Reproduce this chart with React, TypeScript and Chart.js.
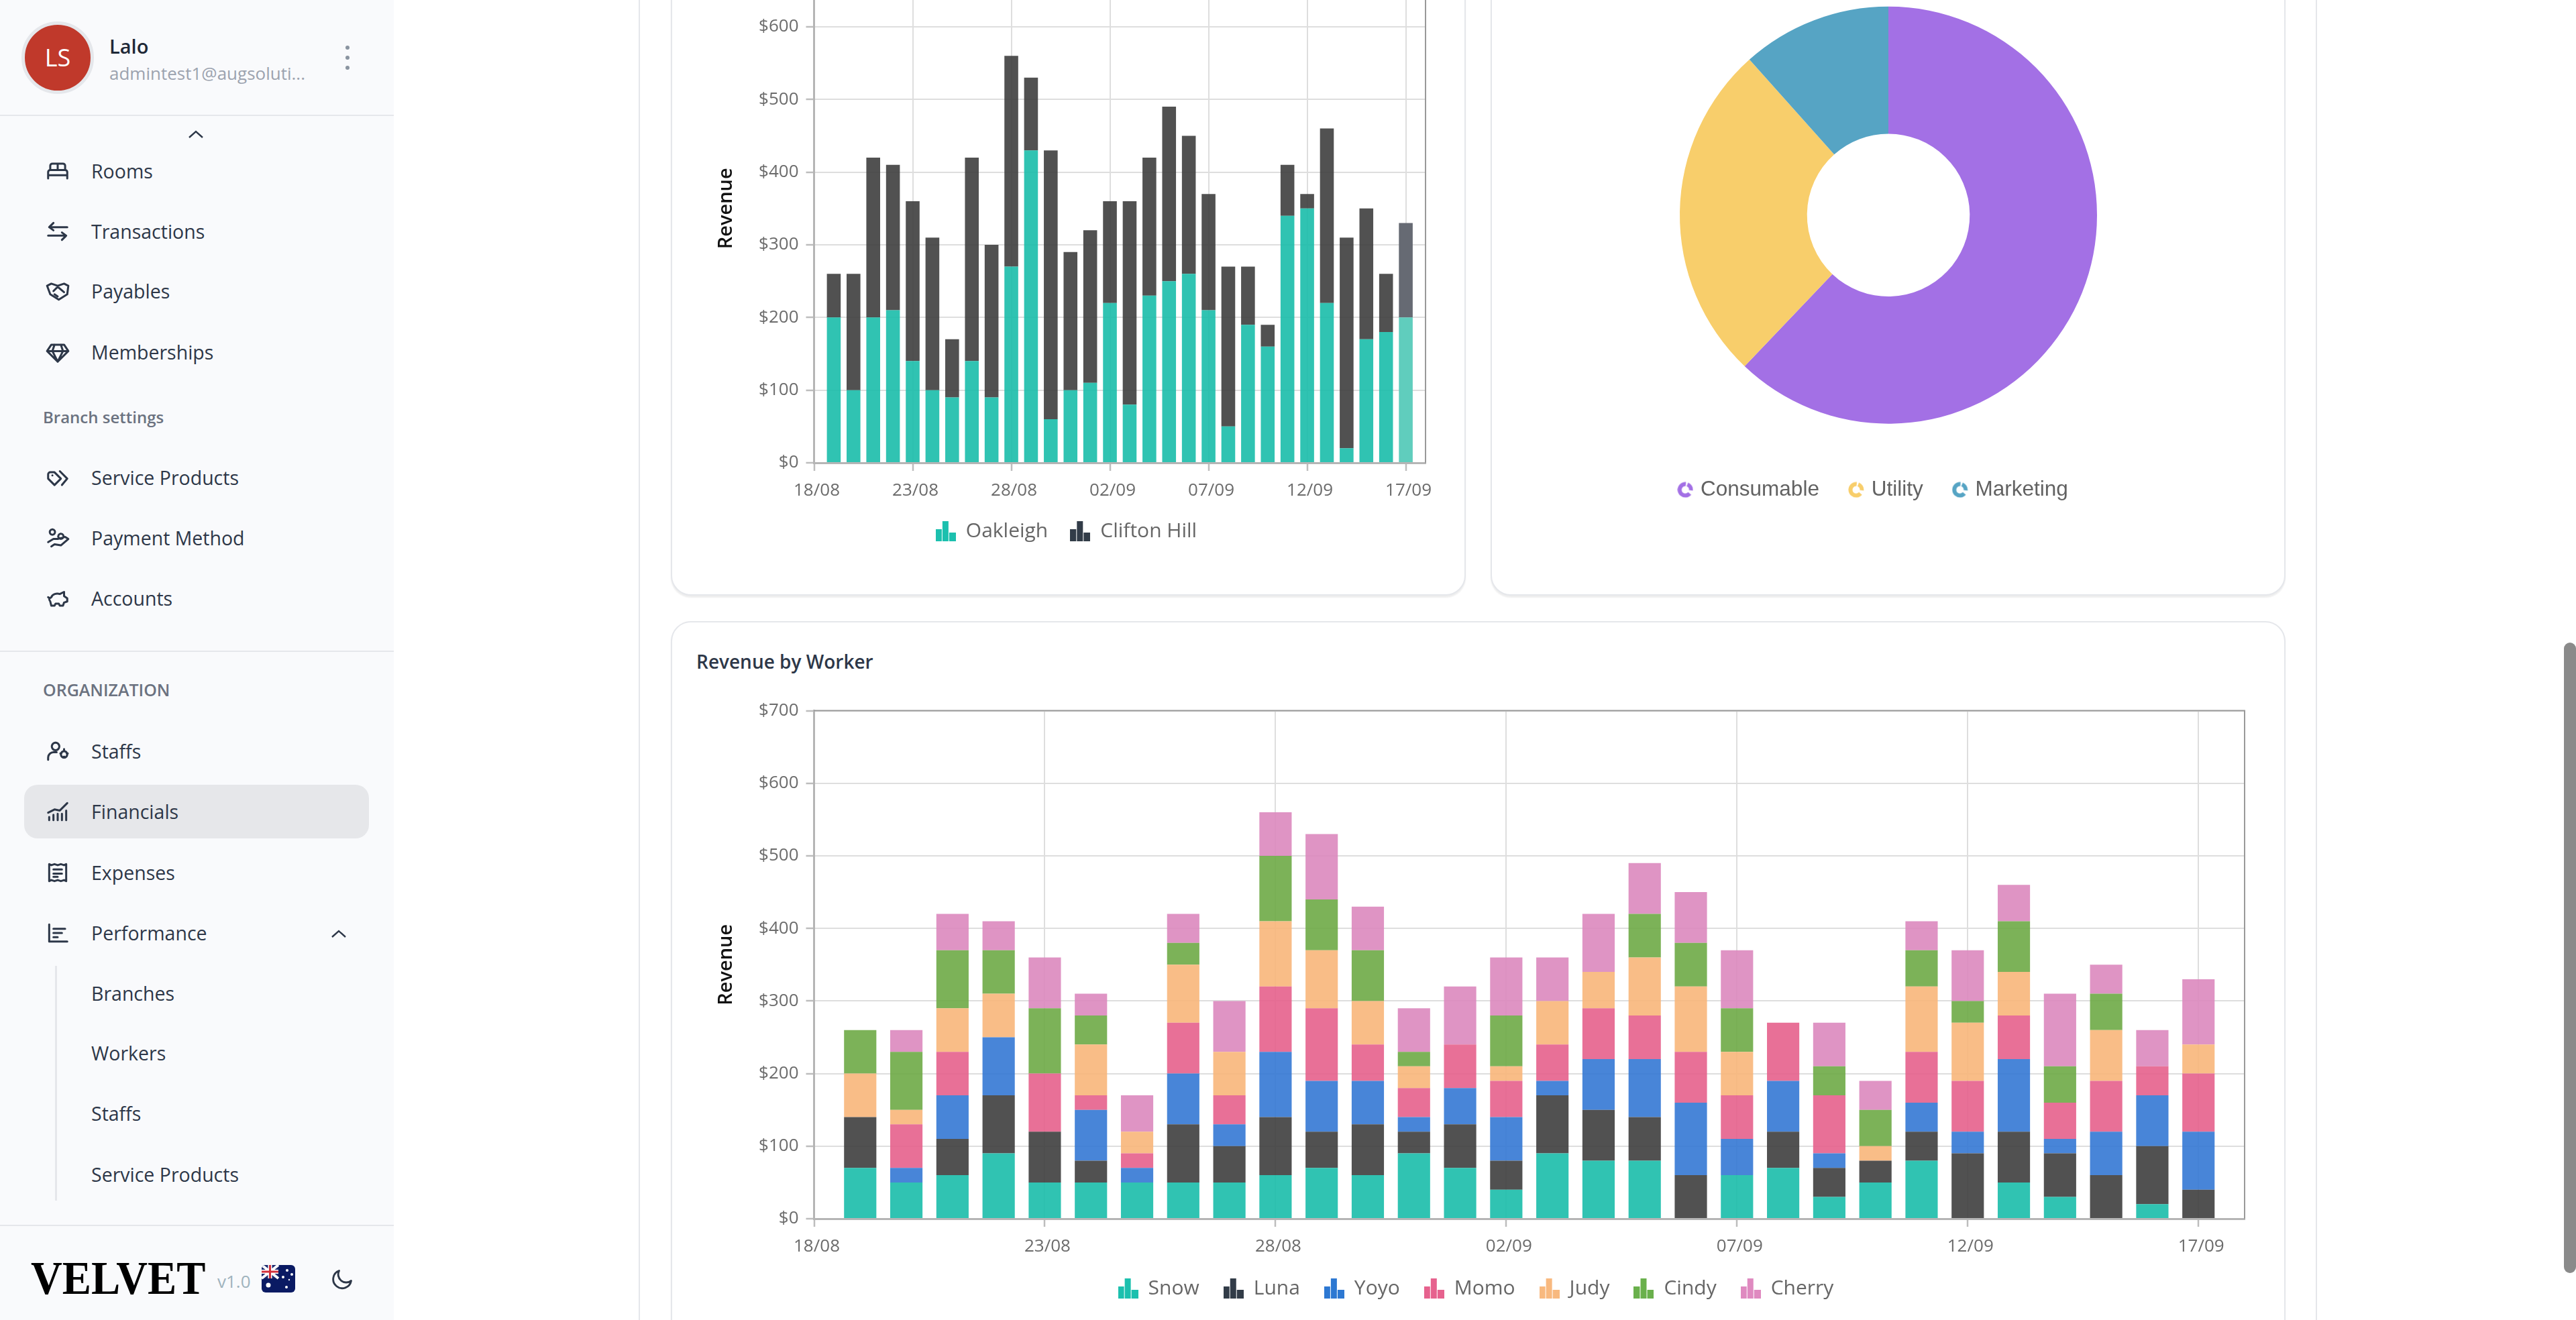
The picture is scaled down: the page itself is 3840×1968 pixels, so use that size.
import { useEffect, useRef } from "react";
import { Chart, registerables } from "chart.js";

Chart.register(...registerables);

// categories: the axis runs one empty day past each end of the bars
const dayLabels = [
  "18/08", "19/08", "20/08", "21/08", "22/08", "23/08", "24/08", "25/08",
  "26/08", "27/08", "28/08", "29/08", "30/08", "31/08", "01/09", "02/09",
  "03/09", "04/09", "05/09", "06/09", "07/09", "08/09", "09/09", "10/09",
  "11/09", "12/09", "13/09", "14/09", "15/09", "16/09", "17/09", "18/09",
];

const oakleigh = [200, 100, 200, 210, 140, 100, 90, 140, 90, 270, 430, 60, 100, 110, 220, 80, 230, 250, 260, 210, 50, 190, 160, 340, 350, 220, 20, 170, 180, 200];
const cliftonHill = [60, 160, 220, 200, 220, 210, 80, 280, 210, 290, 100, 370, 190, 210, 140, 280, 190, 240, 190, 160, 220, 80, 30, 70, 20, 240, 290, 180, 80, 130];

const snow = [70, 50, 60, 90, 50, 50, 50, 50, 50, 60, 70, 60, 90, 70, 40, 90, 80, 80, 0, 60, 70, 30, 50, 80, 0, 50, 30, 0, 20, 0];
const luna = [70, 0, 50, 80, 70, 30, 0, 80, 50, 80, 50, 70, 30, 60, 40, 80, 70, 60, 60, 0, 50, 40, 30, 40, 90, 70, 60, 60, 80, 40];
const yoyo = [0, 20, 60, 80, 0, 70, 20, 70, 30, 90, 70, 60, 20, 50, 60, 20, 70, 80, 100, 50, 70, 20, 0, 40, 30, 100, 20, 60, 70, 80];
const momo = [0, 60, 60, 0, 80, 20, 20, 70, 40, 90, 100, 50, 40, 60, 50, 50, 70, 60, 70, 60, 80, 80, 0, 70, 70, 60, 50, 70, 40, 80];
const judy = [60, 20, 60, 60, 0, 70, 30, 80, 60, 90, 80, 60, 30, 0, 20, 60, 50, 80, 90, 60, 0, 0, 20, 90, 80, 60, 0, 70, 0, 40];
const cindy = [60, 80, 80, 60, 90, 40, 0, 30, 0, 90, 70, 70, 20, 0, 70, 0, 0, 60, 60, 60, 0, 40, 50, 50, 30, 70, 50, 50, 0, 0];
const cherry = [0, 30, 50, 40, 70, 30, 50, 40, 70, 60, 90, 60, 60, 80, 80, 60, 80, 70, 70, 80, 0, 60, 40, 40, 70, 50, 100, 40, 50, 90];

const expenseLabels = ["Consumable", "Utility", "Marketing"];
const expenseValues = [62.1, 26.3, 11.6];

const FONT = "'Open Sans', sans-serif";

function barIcon(color: string) {
  const c = document.createElement("canvas");
  c.width = 30;
  c.height = 30;
  const g = c.getContext("2d")!;
  g.fillStyle = color;
  g.fillRect(0, 12, 9, 18);
  g.fillRect(10, 0, 9, 30);
  g.fillRect(20, 17, 10, 13);
  return c;
}

function ringIcon(color: string) {
  const c = document.createElement("canvas");
  c.width = 24;
  c.height = 24;
  const g = c.getContext("2d")!;
  g.strokeStyle = color;
  g.lineWidth = 6;
  g.beginPath();
  g.arc(12, 12, 8.5, -1.2, 0.1);
  g.stroke();
  g.beginPath();
  g.arc(12, 12, 8.5, 0.7, 4.8);
  g.stroke();
  return c;
}

// top and right edge of the plot
const plotFrame = {
  id: "plotFrame",
  afterDraw(chart: any) {
    const { left, right, top, bottom } = chart.chartArea;
    const g = chart.ctx;
    g.save();
    g.strokeStyle = "#999";
    g.lineWidth = 2;
    g.beginPath();
    g.moveTo(left, top);
    g.lineTo(right, top);
    g.lineTo(right, bottom);
    g.stroke();
    g.restore();
  },
};

// the doughnut legend sits a little left of the ring
const legendShift = {
  id: "legendShift",
  afterLayout(chart: any) {
    chart.legend.left -= 21;
    chart.legend.right -= 21;
  },
};

type Series = { label: string; values: number[]; bar: string; legend: string; hover?: string };

function StackedBars(props: { series: Series[]; left: number; top: number; width: number; height: number; axisHeight: number; legendGap: number }) {
  const ref = useRef<HTMLCanvasElement | null>(null);

  useEffect(() => {
    if (!ref.current) return;
    const chart = new Chart(ref.current, {
      type: "bar",
      data: {
        labels: dayLabels,
        datasets: props.series.map((s) => ({
          label: s.label,
          // pad the two empty days at the ends of the axis
          data: [null, ...s.values, null] as any,
          backgroundColor: dayLabels.map((_, i) => (s.hover && i === 30 ? s.hover : s.bar)),
          barPercentage: 0.7,
          categoryPercentage: 1,
        })),
      },
      options: {
        responsive: false,
        devicePixelRatio: 1,
        animation: false,
        layout: { padding: { top: 20, right: 60 } },
        scales: {
          x: {
            stacked: true,
            offset: false,
            afterFit: (scale: any) => {
              scale.height = props.axisHeight;
            },
            grid: { offset: false, color: "#dedede", lineWidth: 2, tickColor: "#bdbdbd", tickLength: 12, tickWidth: 2.5 },
            border: { color: "#b5b5b5", width: 3 },
            ticks: {
              autoSkip: false,
              maxRotation: 0,
              padding: 14,
              labelOffset: 4,
              color: "#6b6b6b",
              font: { family: FONT, size: 26 },
              callback: (_v: any, i: number) => (i % 5 === 0 ? dayLabels[i] : null),
            },
          },
          y: {
            stacked: true,
            min: 0,
            max: 700,
            afterFit: (scale: any) => {
              scale.width = 159.5;
            },
            title: {
              display: true,
              text: "Revenue",
              color: "#111",
              padding: { top: 11, bottom: 0 },
              font: { family: FONT, size: 29, weight: 600 },
            },
            grid: { color: "#dedede", lineWidth: 2, tickColor: "#bdbdbd", tickLength: 12, tickWidth: 2.5 },
            border: { color: "#b5b5b5", width: 3 },
            ticks: {
              stepSize: 100,
              padding: 11,
              color: "#6b6b6b",
              font: { family: FONT, size: 26 },
              callback: (v: any) => "$" + v,
            },
          },
        },
        plugins: {
          tooltip: { enabled: false },
          legend: {
            position: "bottom",
            labels: {
              usePointStyle: true,
              pointStyleWidth: 30,
              padding: props.legendGap,
              color: "#666",
              font: { family: FONT, size: 30 },
              generateLabels: () =>
                props.series.map((s, i) => ({
                  text: s.label,
                  fillStyle: s.legend,
                  strokeStyle: s.legend,
                  fontColor: "#666",
                  lineWidth: 0,
                  pointStyle: barIcon(s.legend),
                  datasetIndex: i,
                  hidden: false,
                })),
            },
          },
        },
      },
      plugins: [plotFrame],
    } as any);
    return () => chart.destroy();
  }, []);

  return (
    <canvas
      ref={ref}
      width={props.width}
      height={props.height}
      style={{ position: "absolute", left: props.left, top: props.top, width: props.width, height: props.height }}
    />
  );
}

const expenseColors = ["#a370e5", "#f8ce6b", "#56a4c4"];

function ExpenseDoughnut() {
  const ref = useRef<HTMLCanvasElement | null>(null);

  useEffect(() => {
    if (!ref.current) return;
    const chart = new Chart(ref.current, {
      type: "doughnut",
      data: {
        labels: expenseLabels,
        datasets: [{ data: expenseValues, backgroundColor: expenseColors, borderWidth: 0, radius: 311 }],
      },
      options: {
        responsive: false,
        devicePixelRatio: 1,
        animation: false,
        cutout: "39%",
        plugins: {
          tooltip: { enabled: false },
          legend: {
            position: "bottom",
            labels: {
              usePointStyle: true,
              pointStyleWidth: 14,
              padding: 48,
              color: "#666",
              font: { family: "'Liberation Sans', Arial, sans-serif", size: 31.5 },
              generateLabels: () =>
                expenseLabels.map((text, i) => ({
                  text,
                  fillStyle: expenseColors[i],
                  strokeStyle: expenseColors[i],
                  fontColor: "#626262",
                  lineWidth: 0,
                  pointStyle: ringIcon(expenseColors[i]),
                  index: i,
                  hidden: false,
                })),
            },
          },
        },
      },
      plugins: [legendShift],
    } as any);
    return () => chart.destroy();
  }, []);

  return (
    <canvas ref={ref} width={1184} height={781} style={{ position: "absolute", left: 2223, top: -25, width: 1184, height: 781 }} />
  );
}

const icons: Record<string, string> = {
  rooms: "M3 19v-6a2 2 0 0 1 2-2h14a2 2 0 0 1 2 2v6M3 16h18M5 11V7a2 2 0 0 1 2-2h10a2 2 0 0 1 2 2v4M12 5v6",
  transactions: "M21 8H4m0 0l4-4M4 8l4 3M3 16h17m0 0l-4-3m4 3l-4 4",
  payables: "M2 7l4-2 6 2 6-2 4 2-1 8-8 5-8-5zM8 12l4-4 6 5M9 15l3 2",
  memberships: "M6 5h12l4 6-10 10L2 11zM2 11h20M9 5l-2 6 5 10 5-10-2-6",
  service: "M3 9v4l6 6 6-6-6-6H5a2 2 0 0 0-2 2zM14 6l7 7-5 6M7 10h.01",
  payment: "M7 4a2.5 2.5 0 1 0 .01 0M15 8a2.5 2.5 0 1 0 .01 0M3 16l5-3h4l7-2 3 2-7 6-6-1-3 2",
  accounts: "M3 11c1 1 2 1 3 0 1-3 5-4 8-3l4-2v4l3 2v3l-3 1-1 3h-3l-1-2h-3l-1 2H6l-1-4c-1-1-1-2-1-3",
  staff: "M10 4a3.5 3.5 0 1 0 .01 0M3 20v-2a5 5 0 0 1 5-5h3M18 12a3 3 0 1 0 .01 0M18 10v1M18 17v1M14.5 14h1M20.5 14h1",
  financials: "M3 13l6-3 5 1 7-7M4 20v-3M8 20v-5M12 20v-6M16 20v-6M20 20v-9",
  expenses: "M4 4l2 1 3-1 3 1 3-1 3 1 2-1v16l-2-1-3 1-3-1-3 1-3-1-2 1zM8 9h8M8 13h8M8 16h4",
  performance: "M4 4v16h17M8 8h11M8 12h8M8 16h4",
  moon: "M21 13A9 9 0 1 1 9 3a8 8 0 0 0 12 10z",
};

function Icon({ name, x, y, size = 38 }: { name: string; x: number; y: number; size?: number }) {
  return (
    <svg
      viewBox="0 0 24 24"
      width={size}
      height={size}
      fill="none"
      stroke="#2d3748"
      strokeWidth={1.9}
      strokeLinecap="round"
      strokeLinejoin="round"
      style={{ position: "absolute", left: x - size / 2, top: y - size / 2 }}
    >
      <path d={icons[name]} />
    </svg>
  );
}

function Label(props: { x: number; y: number; size: number; color: string; weight?: number; text: string; spacing?: number }) {
  return (
    <div
      style={{
        position: "absolute",
        left: props.x,
        top: props.y,
        transform: "translateY(-50%)",
        fontFamily: FONT,
        fontSize: props.size,
        fontWeight: props.weight ?? 400,
        color: props.color,
        letterSpacing: props.spacing,
        lineHeight: 1.2,
        whiteSpace: "nowrap",
      }}
    >
      {props.text}
    </div>
  );
}

const navItems = [
  { text: "Rooms", icon: "rooms", y: 255 },
  { text: "Transactions", icon: "transactions", y: 345 },
  { text: "Payables", icon: "payables", y: 434 },
  { text: "Memberships", icon: "memberships", y: 525 },
  { text: "Service Products", icon: "service", y: 712 },
  { text: "Payment Method", icon: "payment", y: 802 },
  { text: "Accounts", icon: "accounts", y: 892 },
  { text: "Staffs", icon: "staff", y: 1120 },
  { text: "Financials", icon: "financials", y: 1210 },
  { text: "Expenses", icon: "expenses", y: 1301 },
  { text: "Performance", icon: "performance", y: 1391 },
];
const subItems = [
  { text: "Branches", y: 1481 },
  { text: "Workers", y: 1570 },
  { text: "Staffs", y: 1660 },
  { text: "Service Products", y: 1751 },
];

function Chevron({ x, y }: { x: number; y: number }) {
  return (
    <svg width={24} height={14} viewBox="0 0 24 14" fill="none" stroke="#2d3748" strokeWidth={2.4} style={{ position: "absolute", left: x - 12, top: y - 7 }}>
      <path d="M2 12L12 3l10 9" />
    </svg>
  );
}

function Flag() {
  return (
    <svg width={50} height={41} viewBox="0 0 50 41" style={{ position: "absolute", left: 390, top: 1886, borderRadius: 6 }}>
      <rect width={50} height={41} fill="#0a1a63" />
      <rect width={25} height={20} fill="#1c2a70" />
      <path d="M0 0L25 20M25 0L0 20" stroke="#fff" strokeWidth={4} />
      <path d="M12.5 0v20M0 10h25" stroke="#fff" strokeWidth={6} />
      <path d="M12.5 0v20M0 10h25" stroke="#d22f3a" strokeWidth={3} />
      <circle cx={10} cy={30} r={3.5} fill="#fff" />
      <circle cx={38} cy={8} r={2} fill="#fff" />
      <circle cx={32} cy={18} r={2} fill="#fff" />
      <circle cx={45} cy={14} r={2} fill="#fff" />
      <circle cx={41} cy={22} r={1.2} fill="#fff" />
      <circle cx={37} cy={33} r={2} fill="#fff" />
    </svg>
  );
}

function Sidebar() {
  return (
    <div style={{ position: "absolute", left: 0, top: 0, width: 587, height: 1968, background: "#f9fafc" }}>
      <div style={{ position: "absolute", left: 32, top: 32, width: 108, height: 108, borderRadius: "50%", background: "#c0392b", border: "5px solid #e5e7eb", boxSizing: "border-box" }} />
      <div style={{ position: "absolute", left: 32, top: 32, width: 108, lineHeight: "108px", textAlign: "center", color: "#fff", fontFamily: FONT, fontSize: 36 }}>LS</div>
      <Label x={163} y={69} size={29} color="#1f2937" weight={600} text="Lalo" />
      <Label x={163} y={110} size={26} color="#9ca3af" text="admintest1@augsoluti..." />
      {[71, 86, 101].map((y) => (
        <div key={y} style={{ position: "absolute", left: 515, top: y - 3, width: 6, height: 6, borderRadius: 3, background: "#8a94a0" }} />
      ))}
      <div style={{ position: "absolute", left: 0, top: 171, width: 587, height: 2, background: "#e5e7eb" }} />
      <Chevron x={292} y={200} />
      <Label x={64} y={622} size={24} color="#6b7280" weight={600} text="Branch settings" />
      <div style={{ position: "absolute", left: 0, top: 970, width: 587, height: 2, background: "#e5e7eb" }} />
      <Label x={64} y={1028} size={25} color="#6b7280" weight={600} text="ORGANIZATION" />
      <div style={{ position: "absolute", left: 36, top: 1170, width: 514, height: 80, borderRadius: 20, background: "#e6e7ea" }} />
      {navItems.map((item) => (
        <div key={item.text + item.y}>
          <Icon name={item.icon} x={86} y={item.y} />
          <Label x={136} y={item.y} size={28.5} color="#2d3748" text={item.text} />
        </div>
      ))}
      <Chevron x={505} y={1392} />
      <div style={{ position: "absolute", left: 82, top: 1440, width: 3, height: 350, background: "#e5e7eb" }} />
      {subItems.map((item) => (
        <Label key={item.text} x={136} y={item.y} size={28.5} color="#2d3748" text={item.text} />
      ))}
      <div style={{ position: "absolute", left: 0, top: 1826, width: 587, height: 2, background: "#e5e7eb" }} />
      <div style={{ position: "absolute", left: 46, top: 1906, transform: "translateY(-50%) scaleX(0.925)", transformOrigin: "left center", fontFamily: "'Liberation Serif', serif", fontWeight: 700, fontSize: 70, lineHeight: 1, color: "#000", whiteSpace: "nowrap" }}>
        VELVET
      </div>
      <Label x={324} y={1911} size={26} color="#9fb3bd" text="v1.0" />
      <Flag />
      <Icon name="moon" x={510} y={1908} size={36} />
    </div>
  );
}

const cardStyle = { position: "absolute", boxSizing: "border-box", border: "2.5px solid #e5e7eb", borderRadius: 30, background: "#fff", boxShadow: "0 3px 2px #eeeeee" } as const;

const branchSeries: Series[] = [
  { label: "Oakleigh", values: oakleigh, bar: "rgba(26,188,170,0.9)", legend: "#1cc0ae", hover: "#60cdbd" },
  { label: "Clifton Hill", values: cliftonHill, bar: "rgba(62,62,62,0.9)", legend: "#323c48", hover: "#666a73" },
];

const workerSeries: Series[] = [
  { label: "Snow", values: snow, bar: "rgba(26,188,170,0.9)", legend: "#1cc0ae" },
  { label: "Luna", values: luna, bar: "rgba(62,62,62,0.9)", legend: "#323c48" },
  { label: "Yoyo", values: yoyo, bar: "rgba(52,120,212,0.9)", legend: "#2d78d2" },
  { label: "Momo", values: momo, bar: "rgba(230,96,140,0.9)", legend: "#e6628e" },
  { label: "Judy", values: judy, bar: "rgba(248,182,122,0.9)", legend: "#f8b97f" },
  { label: "Cindy", values: cindy, bar: "rgba(110,170,70,0.9)", legend: "#6ab04c" },
  { label: "Cherry", values: cherry, bar: "rgba(220,136,190,0.9)", legend: "#df8ac0" },
];

export default function App() {
  return (
    <div style={{ position: "fixed", left: 0, top: 0, width: 3840, height: 1968, overflow: "hidden", background: "#fff" }}>
      <Sidebar />
      <div style={{ position: "absolute", left: 952, top: 0, width: 2, height: 1968, background: "#e5e7eb" }} />
      <div style={{ position: "absolute", left: 3452, top: 0, width: 2, height: 1968, background: "#e5e7eb" }} />
      <div style={{ ...cardStyle, left: 1000, top: -200, width: 1185, height: 1088 }} />
      <div style={{ ...cardStyle, left: 2222, top: -200, width: 1185, height: 1088 }} />
      <div style={{ ...cardStyle, left: 1000, top: 926, width: 2407, height: 1200 }} />
      <StackedBars series={branchSeries} left={1054} top={-95} width={1131} height={912} axisHeight={54} legendGap={33} />
      <ExpenseDoughnut />
      <Label x={1038} y={987} size={28} color="#2d3748" weight={600} text="Revenue by Worker" />
      <StackedBars series={workerSeries} left={1054} top={1033} width={2352} height={913} axisHeight={53} legendGap={36} />
      <div style={{ position: "absolute", left: 3822, top: 958, width: 18, height: 940, borderRadius: 9, background: "#8a8a8a" }} />
    </div>
  );
}
